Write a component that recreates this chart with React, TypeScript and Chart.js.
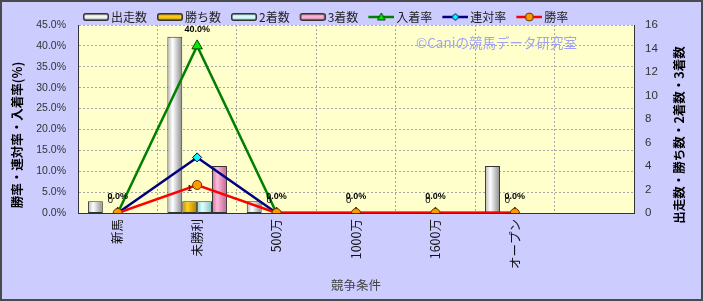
import { useEffect, useRef } from 'react';
import { Chart, registerables } from 'chart.js';

Chart.register(...registerables);

const categories = ['新馬', '未勝利', '500万', '1000万', '1600万', 'オープン', ''];
const starters = [1, 15, 1, 0, 0, 4, null];
const wins = [0, 1, 0, 0, 0, 0, null];
const seconds = [0, 1, 0, 0, 0, 0, null];
const thirds = [0, 4, 0, 0, 0, 0, null];
const placeRate = [0, 40.0, 0, 0, 0, 0, null];
const quinellaRate = [0, 13.3, 0, 0, 0, 0, null];
const winRate = [0, 6.7, 0, 0, 0, 0, null];

const pctMax = 45;
const pctStep = 5;
const countMax = 16;
const countStep = 2;

const barLabels = ['出走数', '勝ち数', '2着数', '3着数'];
const lineLabels = ['入着率', '連対率', '勝率'];

const barStops = [
  ['#b4b4b4', '#ffffff', '#8a8a8a'],
  ['#c08c00', '#ffd21a', '#b07c00'],
  ['#8ccfcf', '#e4ffff', '#7fc2c2'],
  ['#d0709f', '#ffbcdc', '#c06090'],
];

const lineColors = ['#008000', '#000080', '#ff0000'];
const markerFills = ['#00ee00', '#00ffff', '#ff9900'];
const markerBorders = ['#004400', '#000060', '#663300'];
const markerStyles = ['triangle', 'rectRot', 'circle'];
const markerRadius = [6, 4.5, 4.5];

const JP = '"Noto Sans CJK JP", "Noto Sans", sans-serif';
const LAT = '"Liberation Sans", Arial, "Noto Sans CJK JP", sans-serif';

function makeBarIcon(stops: string[]) {
  const c = document.createElement('canvas');
  c.width = 30;
  c.height = 10;
  const g = c.getContext('2d')!;
  const grad = g.createLinearGradient(0, 1, 0, 9);
  grad.addColorStop(0, stops[0]);
  grad.addColorStop(0.5, stops[1]);
  grad.addColorStop(1, stops[2]);
  g.fillStyle = grad;
  g.strokeStyle = '#333';
  g.lineWidth = 1.5;
  g.beginPath();
  (g as any).roundRect(4.75, 1.75, 24.5, 6.5, 2);
  g.fill();
  g.stroke();
  return c;
}

function makeLineIcon(i: number) {
  const c = document.createElement('canvas');
  c.width = 30;
  c.height = 12;
  const g = c.getContext('2d')!;
  g.strokeStyle = lineColors[i];
  g.lineWidth = 2.5;
  g.beginPath();
  g.moveTo(4, 6);
  g.lineTo(30, 6);
  g.stroke();
  g.fillStyle = markerFills[i];
  g.strokeStyle = markerBorders[i];
  g.lineWidth = 1;
  g.beginPath();
  const cx = 17;
  const cy = 6;
  if (markerStyles[i] === 'triangle') {
    g.moveTo(cx, cy - 4);
    g.lineTo(cx + 3.8, cy + 3);
    g.lineTo(cx - 3.8, cy + 3);
    g.closePath();
  } else if (markerStyles[i] === 'rectRot') {
    g.moveTo(cx, cy - 3.5);
    g.lineTo(cx + 3.5, cy);
    g.lineTo(cx, cy + 3.5);
    g.lineTo(cx - 3.5, cy);
    g.closePath();
  } else {
    g.arc(cx, cy, 4, 0, Math.PI * 2);
  }
  g.fill();
  g.stroke();
  return c;
}

export default function App() {
  const ref = useRef<HTMLCanvasElement | null>(null);

  useEffect(() => {
    document.body.style.margin = '0';
    const canvas = ref.current;
    if (!canvas) return;

    const icons: HTMLCanvasElement[] = [
      ...barStops.map((s) => makeBarIcon(s)),
      makeLineIcon(0),
      makeLineIcon(1),
      makeLineIcon(2),
    ];

    const barData = [starters, wins, seconds, thirds];
    const lineData = [placeRate, quinellaRate, winRate];

    const datasets: any[] = [
      ...barData.map((d, i) => ({
        type: 'bar',
        label: barLabels[i],
        data: d,
        yAxisID: 'y1',
        order: 10,
        backgroundColor: () => barStops[i][1],
        borderColor: '#333333',
        borderWidth: 1,
        borderSkipped: false,
        categoryPercentage: 0.75,
        barPercentage: 1.0,
      })),
      ...lineData.map((d, i) => ({
        type: 'line',
        label: lineLabels[i],
        data: d,
        yAxisID: 'y',
        order: 3 - i,
        borderColor: lineColors[i],
        borderWidth: 2.5,
        backgroundColor: markerFills[i],
        pointBackgroundColor: markerFills[i],
        pointBorderColor: markerBorders[i],
        pointBorderWidth: 1,
        pointStyle: markerStyles[i],
        pointRadius: markerRadius[i],
        tension: 0,
        fill: false,
      })),
    ];

    const bgPlugin = {
      id: 'bg',
      beforeDraw(chart: any) {
        const { ctx, chartArea: a, width, height } = chart;
        ctx.save();
        ctx.fillStyle = '#ccccff';
        ctx.fillRect(0, 0, width, height);
        ctx.fillStyle = '#ffffcc';
        ctx.fillRect(a.left, a.top, a.right - a.left, a.bottom - a.top);
        ctx.strokeStyle = '#4a4a4a';
        ctx.lineWidth = 2;
        ctx.strokeRect(1, 1, width - 2, height - 2);
        ctx.restore();
      },
      afterLayout(chart: any) {
        if (chart.legend) {
          chart.legend.left = chart.chartArea.left - 5;
        }
      },
      beforeDatasetsDraw(chart: any) {
        const { ctx, chartArea: a } = chart;
        ctx.save();
        ctx.font = '13.5px ' + JP;
        ctx.fillStyle = '#a2a2f2';
        ctx.textAlign = 'left';
        ctx.textBaseline = 'middle';
        ctx.fillText('©Caniの競馬データ研究室', a.left + 338, a.top + 18);
        ctx.restore();
        for (let i = 0; i < 4; i++) {
          const meta = chart.getDatasetMeta(i);
          const stops = barStops[i];
          meta.data.forEach((el: any) => {
            const p = el.getProps(['x', 'width'], true);
            if (!isFinite(p.x) || !isFinite(p.width) || !el.options) return;
            const g = ctx.createLinearGradient(p.x - p.width / 2, 0, p.x + p.width / 2, 0);
            g.addColorStop(0, stops[0]);
            g.addColorStop(0.35, stops[1]);
            g.addColorStop(1, stops[2]);
            el.options.backgroundColor = g;
          });
        }
      },
      afterDatasetsDraw(chart: any) {
        const { ctx } = chart;
        ctx.save();
        ctx.fillStyle = '#000';
        ctx.textAlign = 'center';
        ctx.textBaseline = 'middle';
        ctx.font = '9.5px ' + LAT;
        chart.getDatasetMeta(1).data.forEach((el: any, j: number) => {
          const v = wins[j];
          if (v == null) return;
          ctx.fillText(String(v), el.x, el.y - 13);
        });
        ctx.font = 'bold 9px ' + LAT;
        chart.getDatasetMeta(4).data.forEach((el: any, j: number) => {
          const v = placeRate[j];
          if (v == null) return;
          ctx.fillText(v.toFixed(1) + '%', el.x, el.y - 16);
        });
        ctx.restore();
      },
      afterDraw(chart: any) {
        const { ctx, chartArea: a } = chart;
        const cy = (a.top + a.bottom) / 2 + 16;
        ctx.save();
        ctx.fillStyle = '#000';
        ctx.font = 'bold 12.5px ' + JP;
        ctx.textAlign = 'center';
        ctx.textBaseline = 'middle';
        ctx.translate(17, cy);
        ctx.rotate(-Math.PI / 2);
        ctx.fillText('勝率・連対率・入着率(%)', 0, 0);
        ctx.restore();
        ctx.save();
        ctx.fillStyle = '#000';
        ctx.font = 'bold 12.5px ' + JP;
        ctx.textAlign = 'center';
        ctx.textBaseline = 'middle';
        ctx.translate(a.right + 45, cy);
        ctx.rotate(-Math.PI / 2);
        ctx.fillText('出走数・勝ち数・2着数・3着数', 0, 0);
        ctx.restore();
      },
    };

    const chart = new Chart(canvas, {
      type: 'bar',
      data: { labels: categories, datasets },
      plugins: [bgPlugin as any],
      options: {
        responsive: false,
        animation: false,
        devicePixelRatio: 1,
        layout: { padding: { top: 1, left: 0, right: 0, bottom: 0 } },
        plugins: {
          tooltip: { enabled: false },
          legend: {
            display: true,
            position: 'top',
            align: 'start',
            maxHeight: 24,
            labels: {
              usePointStyle: true,
              pointStyleWidth: 22,
              padding: 10,
              color: '#222',
              font: { family: JP, size: 12 },
              generateLabels: (ch: any) => {
                const items = (Chart.defaults.plugins.legend.labels as any).generateLabels(ch);
                items.sort((a: any, b: any) => a.datasetIndex - b.datasetIndex);
                items.forEach((it: any) => {
                  it.pointStyle = icons[it.datasetIndex];
                  it.fontColor = '#222';
                });
                return items;
              },
            },
          } as any,
        },
        scales: {
          x: {
            type: 'category',
            offset: true,
            grid: { display: true, offset: true, color: '#a8a8a8', lineWidth: 1, drawTicks: false },
            border: { display: true, color: '#333', width: 1, dash: [2, 2] },
            ticks: {
              autoSkip: false,
              minRotation: 90,
              maxRotation: 90,
              padding: 6,
              color: '#111',
              font: { family: JP, size: 12.5 },
            },
            title: {
              display: true,
              text: '競争条件',
              color: '#444',
              font: { family: JP, size: 12.5 },
              padding: { top: 0, bottom: 8.5 },
            },
            afterFit: (s: any) => {
              s.height = 88;
            },
          },
          y: {
            type: 'linear',
            position: 'left',
            min: 0,
            max: pctMax,
            grid: { color: '#a8a8a8', lineWidth: 1, drawTicks: false },
            border: { display: true, color: '#333', width: 1, dash: [2, 2] },
            ticks: {
              stepSize: pctStep,
              padding: 12,
              color: '#333',
              font: { family: LAT, size: 10.5 },
              callback: (v: any) => Number(v).toFixed(1) + '%',
            },
            afterFit: (s: any) => {
              s.width = 78;
            },
          },
          y1: {
            type: 'linear',
            position: 'right',
            min: 0,
            max: countMax,
            grid: { display: false, drawTicks: false },
            border: { display: true, color: '#333', width: 1 },
            ticks: {
              stepSize: countStep,
              padding: 11,
              color: '#333',
              font: { family: LAT, size: 11.5 },
            },
            afterFit: (s: any) => {
              s.width = 69;
            },
          },
        },
      } as any,
    });

    return () => chart.destroy();
  }, []);

  return (
    <div style={{ width: 703, height: 301 }}>
      <canvas ref={ref} width={703} height={301} style={{ display: 'block', width: 703, height: 301 }} />
    </div>
  );
}
